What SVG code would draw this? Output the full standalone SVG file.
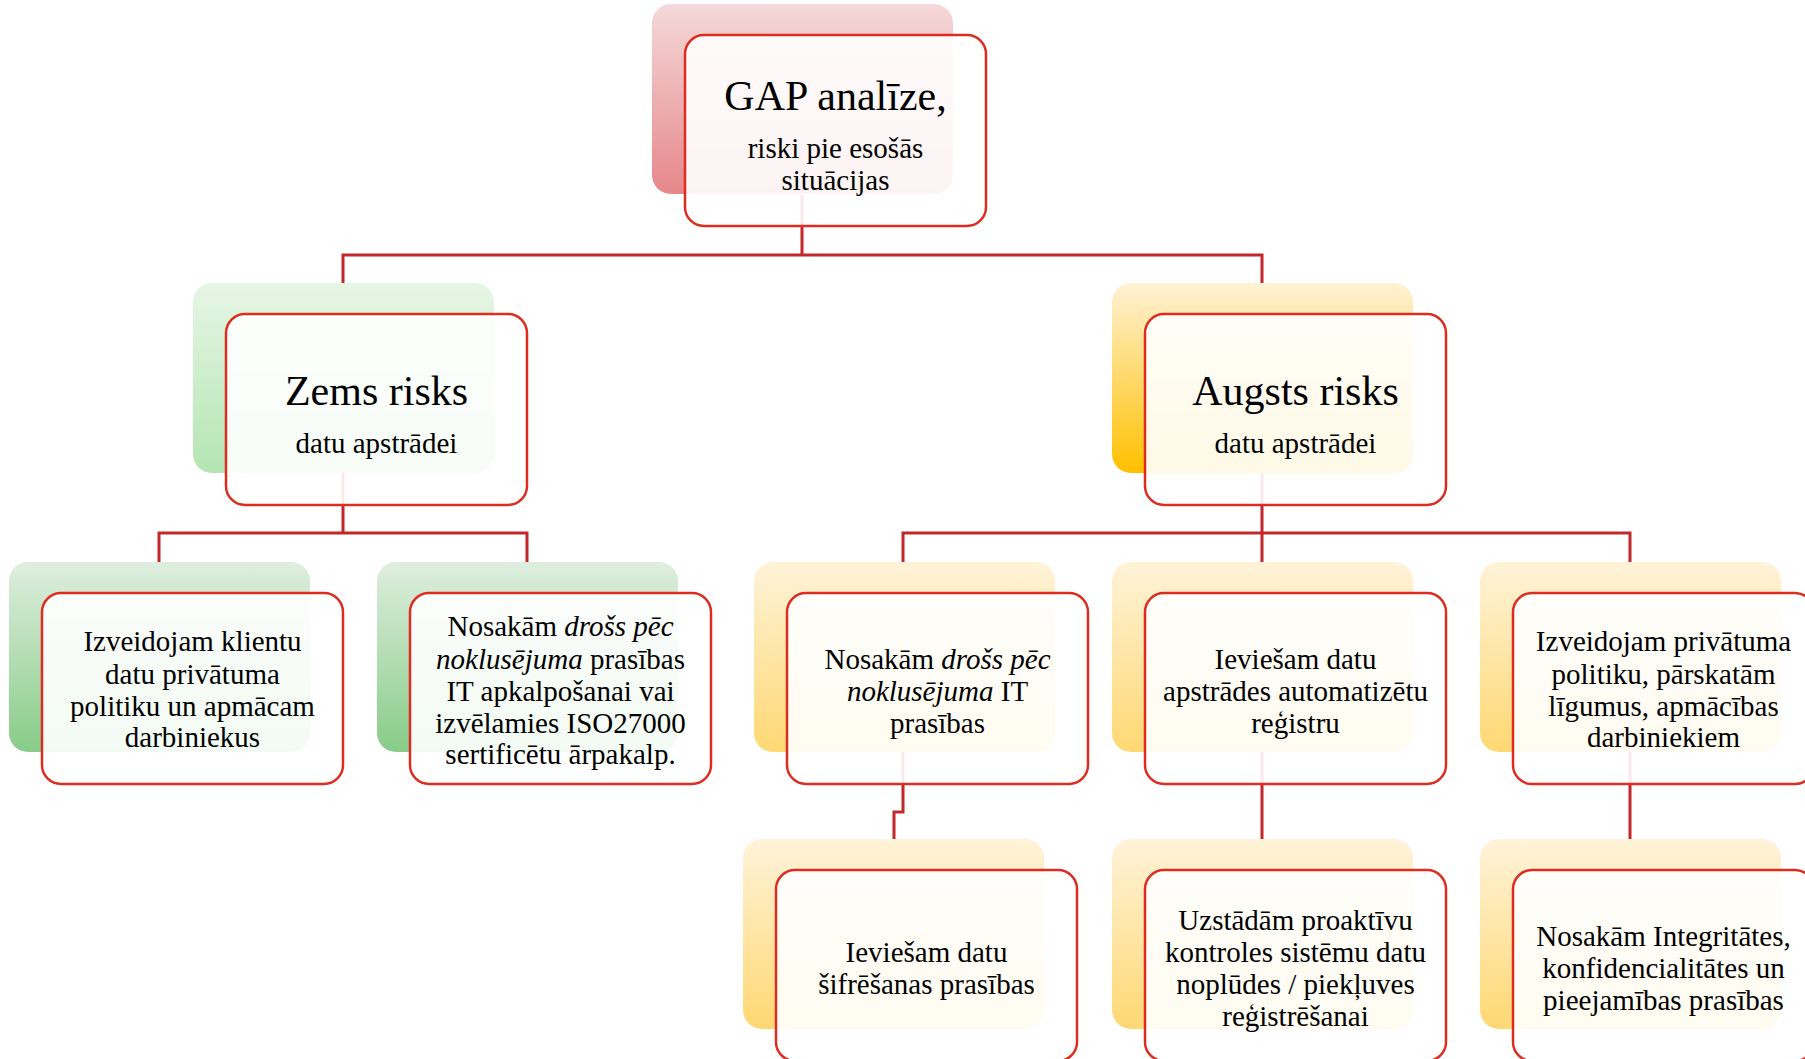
<svg xmlns="http://www.w3.org/2000/svg" width="1805" height="1059" viewBox="0 0 1805 1059">
<defs>
<linearGradient id="gPink" x1="0" y1="0" x2="0" y2="1"><stop offset="0" stop-color="#f5d9da"/><stop offset="1" stop-color="#e6878a"/></linearGradient>
<linearGradient id="gGreen2" x1="0" y1="0" x2="0" y2="1"><stop offset="0" stop-color="#e6f6e5"/><stop offset="1" stop-color="#b4e5b2"/></linearGradient>
<linearGradient id="gGreen3" x1="0" y1="0" x2="0" y2="1"><stop offset="0" stop-color="#dfeedf"/><stop offset="1" stop-color="#88cc88"/></linearGradient>
<linearGradient id="gGold2" x1="0" y1="0" x2="0" y2="1"><stop offset="0" stop-color="#fff2d5"/><stop offset="1" stop-color="#ffc000"/></linearGradient>
<linearGradient id="gGold3" x1="0" y1="0" x2="0" y2="1"><stop offset="0" stop-color="#fff3d9"/><stop offset="1" stop-color="#ffd873"/></linearGradient>
</defs>
<style>
.back{stroke:none}
.front{fill:#ffffff;fill-opacity:0.9;stroke:#dc2e20;stroke-width:2.5}
.conn{fill:none;stroke:#c4262a;stroke-width:3}
text{font-family:"Liberation Serif","Times New Roman",serif;fill:#000;text-anchor:middle}
.t{font-size:42px}
.s{font-size:29px}
.i{font-style:italic}
</style>
<rect width="1805" height="1059" fill="#ffffff"/>
<g id="connectors">
<path class="conn" d="M802,195 V255 M343,283 V255 H1262 V283"/>
<path class="conn" d="M343,473 V533 M159,562 V533 H527 V562"/>
<path class="conn" d="M1262,473 V562 M903,562 V533 H1630 V562"/>
<path class="conn" d="M903,752 V812 H894 V839"/>
<path class="conn" d="M1262,752 V839"/>
<path class="conn" d="M1630,752 V839"/>
</g>
<g id="node-gap">
<rect class="back" x="652" y="4" width="301" height="190" rx="19" fill="url(#gPink)"/>
<rect class="front" x="685" y="35" width="301" height="191" rx="19"/>
<text class="t" x="835.5" y="110">GAP analīze,</text>
<text class="s" x="835.5" y="158">riski pie esošās</text>
<text class="s" x="835.5" y="190">situācijas</text>
</g>
<g id="node-zems">
<rect class="back" x="193" y="283" width="301" height="190" rx="19" fill="url(#gGreen2)"/>
<rect class="front" x="226" y="314" width="301" height="191" rx="19"/>
<text class="t" x="376.5" y="405">Zems risks</text>
<text class="s" x="376.5" y="453">datu apstrādei</text>
</g>
<g id="node-augsts">
<rect class="back" x="1112" y="283" width="301" height="190" rx="19" fill="url(#gGold2)"/>
<rect class="front" x="1145" y="314" width="301" height="191" rx="19"/>
<text class="t" x="1295.5" y="405">Augsts risks</text>
<text class="s" x="1295.5" y="453">datu apstrādei</text>
</g>
<g id="node-klientu">
<rect class="back" x="9" y="562" width="301" height="190" rx="19" fill="url(#gGreen3)"/>
<rect class="front" x="42" y="593" width="301" height="191" rx="19"/>
<text class="s" x="192.5" y="651">Izveidojam klientu</text>
<text class="s" x="192.5" y="684">datu privātuma</text>
<text class="s" x="192.5" y="716">politiku un apmācam</text>
<text class="s" x="192.5" y="747">darbiniekus</text>
</g>
<g id="node-iso">
<rect class="back" x="377" y="562" width="301" height="190" rx="19" fill="url(#gGreen3)"/>
<rect class="front" x="410" y="593" width="301" height="191" rx="19"/>
<text class="s" x="560.5" y="636">Nosakām <tspan class="i">drošs pēc</tspan></text>
<text class="s" x="560.5" y="669"><tspan class="i">noklusējuma</tspan> prasības</text>
<text class="s" x="560.5" y="701">IT apkalpošanai vai</text>
<text class="s" x="560.5" y="733">izvēlamies ISO27000</text>
<text class="s" x="560.5" y="764">sertificētu ārpakalp.</text>
</g>
<g id="node-it">
<rect class="back" x="754" y="562" width="301" height="190" rx="19" fill="url(#gGold3)"/>
<rect class="front" x="787" y="593" width="301" height="191" rx="19"/>
<text class="s" x="937.5" y="669">Nosakām <tspan class="i">drošs pēc</tspan></text>
<text class="s" x="937.5" y="701"><tspan class="i">noklusējuma</tspan> IT</text>
<text class="s" x="937.5" y="733">prasības</text>
</g>
<g id="node-registrs">
<rect class="back" x="1112" y="562" width="301" height="190" rx="19" fill="url(#gGold3)"/>
<rect class="front" x="1145" y="593" width="301" height="191" rx="19"/>
<text class="s" x="1295.5" y="669">Ieviešam datu</text>
<text class="s" x="1295.5" y="701">apstrādes automatizētu</text>
<text class="s" x="1295.5" y="733">reģistru</text>
</g>
<g id="node-politika">
<rect class="back" x="1480" y="562" width="301" height="190" rx="19" fill="url(#gGold3)"/>
<rect class="front" x="1513" y="593" width="301" height="191" rx="19"/>
<text class="s" x="1663.5" y="651">Izveidojam privātuma</text>
<text class="s" x="1663.5" y="684">politiku, pārskatām</text>
<text class="s" x="1663.5" y="716">līgumus, apmācības</text>
<text class="s" x="1663.5" y="747">darbiniekiem</text>
</g>
<g id="node-sifresana">
<rect class="back" x="743" y="839" width="301" height="190" rx="19" fill="url(#gGold3)"/>
<rect class="front" x="776" y="870" width="301" height="191" rx="19"/>
<text class="s" x="926.5" y="962">Ieviešam datu</text>
<text class="s" x="926.5" y="994">šifrēšanas prasības</text>
</g>
<g id="node-kontrole">
<rect class="back" x="1112" y="839" width="301" height="190" rx="19" fill="url(#gGold3)"/>
<rect class="front" x="1145" y="870" width="301" height="191" rx="19"/>
<text class="s" x="1295.5" y="930">Uzstādām proaktīvu</text>
<text class="s" x="1295.5" y="962">kontroles sistēmu datu</text>
<text class="s" x="1295.5" y="994">noplūdes / piekļuves</text>
<text class="s" x="1295.5" y="1026">reģistrēšanai</text>
</g>
<g id="node-integritate">
<rect class="back" x="1480" y="839" width="301" height="190" rx="19" fill="url(#gGold3)"/>
<rect class="front" x="1513" y="870" width="301" height="191" rx="19"/>
<text class="s" x="1663.5" y="946">Nosakām Integritātes,</text>
<text class="s" x="1663.5" y="978">konfidencialitātes un</text>
<text class="s" x="1663.5" y="1010">pieejamības prasības</text>
</g>
</svg>
